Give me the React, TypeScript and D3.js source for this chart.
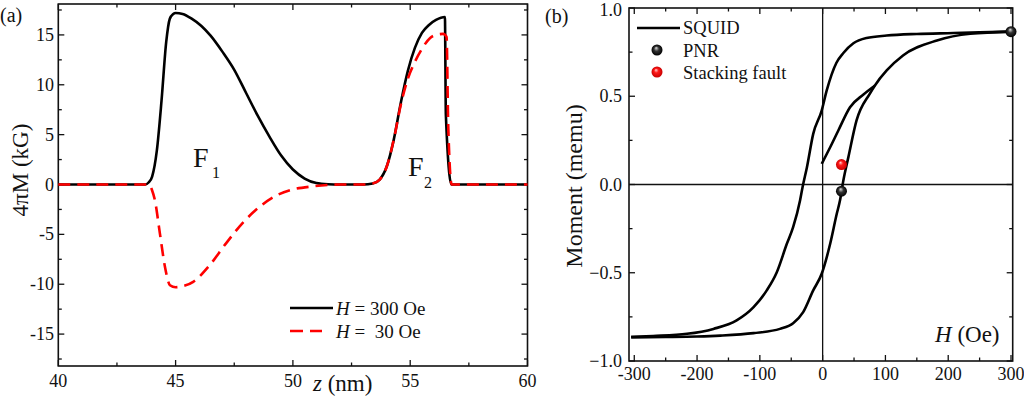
import React from 'react'
import * as d3 from 'd3'

// panel (a): magnetization depth profile
const z300 = [40, 43.7, 43.85, 44.0, 44.2, 44.4, 44.6, 44.75, 44.9, 45.0, 45.3, 45.7, 46.1, 46.5, 47.0, 47.5, 48.0, 48.5, 49.0, 49.5, 50.0, 50.5, 51.0, 51.5, 52, 53.0, 53.4, 53.7, 54.0, 54.3, 54.6, 54.9, 55.2, 55.5, 55.8, 56.1, 56.48, 56.52, 56.76, 60];
const m300 = [0, 0, 0.2, 0.8, 3.4, 8.4, 14.3, 16.6, 17.1, 17.2, 17.1, 16.6, 15.9, 14.9, 13.3, 11.5, 9.2, 6.9, 4.8, 2.9, 1.5, 0.6, 0.15, 0.03, 0, 0, 0.1, 0.5, 1.8, 4.5, 8.2, 11.4, 13.7, 15.2, 16.0, 16.5, 16.8, 7.0, 0, 0];
const z30 = [40, 43.85, 44.0, 44.12, 44.33, 44.55, 44.76, 45.0, 45.2, 45.75, 46.45, 47.15, 47.9, 48.6, 49.3, 50.0, 50.8, 51.5, 52, 53.0, 53.4, 53.7, 54.0, 54.3, 54.6, 54.9, 55.2, 55.5, 55.85, 56.1, 56.4, 56.55, 56.62, 56.77, 60];
const m30 = [0, 0, -0.6, -1.6, -4.9, -8.3, -10.1, -10.3, -10.25, -9.76, -8.1, -5.9, -3.75, -2.2, -1.1, -0.5, -0.2, -0.05, 0, 0, 0.1, 0.5, 1.8, 4.5, 8.0, 10.6, 12.3, 13.6, 14.7, 15.0, 15.1, 14.8, 6, 0, 0];
const zTicks = [40, 45, 50, 55, 60];
const magTicks = [-15, -10, -5, 0, 5, 10, 15];

// panel (b): SQUID loop (branches listed in increasing H)
const hDown = [-305, -270, -216, -174, -137, -110, -89, -73, -57, -47, -36, -32, -25, -15, -1.5, 6.5, 22, 33, 49, 70, 102, 150, 208, 250, 300];
const mDown = [-0.863, -0.858, -0.846, -0.818, -0.77, -0.695, -0.6, -0.497, -0.336, -0.242, -0.09, -0.015, 0.098, 0.287, 0.419, 0.533, 0.69, 0.745, 0.8, 0.83, 0.844, 0.853, 0.858, 0.862, 0.866];
const hUp = [-305, -250, -200, -163, -110, -68, -47, -31, -15, -1.5, 12, 22.5, 27.6, 33, 41, 54, 75, 83, 102, 128, 182, 235, 300];
const mUp = [-0.866, -0.864, -0.861, -0.856, -0.842, -0.818, -0.786, -0.723, -0.6, -0.506, -0.336, -0.166, -0.091, 0.023, 0.155, 0.363, 0.514, 0.56, 0.646, 0.731, 0.816, 0.854, 0.866];
const hInit = [-1.5, 12, 25, 43.6, 65, 83];
const mInit = [0.117, 0.211, 0.306, 0.438, 0.51, 0.56];
const pnrH = [300, 30];
const pnrM = [0.866, -0.038];
const sfH = [30];
const sfM = [0.113];
const hTicks = [-300, -200, -100, 0, 100, 200, 300];
const momTicks = [-1.0, -0.5, 0.0, 0.5, 1.0];

const FONT = '"Liberation Serif", "Times New Roman", serif';

type Sc = d3.ScaleLinear<number, number>;

function Frame({ x, y, major, minorX, minorY, majorY, fmtX, fmtY, xLabY, yLabX }: {
  x: Sc; y: Sc; major: number[]; majorY: number[]; minorX: number[]; minorY: number[];
  fmtX: (v: number) => string; fmtY: (v: number) => string; xLabY: number; yLabX: number;
}) {
  const [x0, x1] = x.range();
  const [y0, y1] = y.range(); // y0 bottom
  const tk: JSX.Element[] = [];
  const push = (k: string, a: number, b: number, c: number, d: number) =>
    tk.push(<line key={k} x1={a} y1={b} x2={c} y2={d} stroke="#111" strokeWidth={1.3} />);
  major.forEach((v) => { const p = x(v); push('xb' + v, p, y0, p, y0 - 6); push('xt' + v, p, y1, p, y1 + 6); });
  minorX.forEach((v) => { const p = x(v); push('xbm' + v, p, y0, p, y0 - 3.5); push('xtm' + v, p, y1, p, y1 + 3.5); });
  majorY.forEach((v) => { const p = y(v); push('yl' + v, x0, p, x0 + 6, p); push('yr' + v, x1, p, x1 - 6, p); });
  minorY.forEach((v) => { const p = y(v); push('ylm' + v, x0, p, x0 + 3.5, p); push('yrm' + v, x1, p, x1 - 3.5, p); });
  return (
    <g>
      <rect x={x0} y={y1} width={x1 - x0} height={y0 - y1} fill="none" stroke="#111" strokeWidth={1.6} />
      {tk}
      {major.map((v) => (
        <text key={'lx' + v} x={x(v)} y={xLabY} textAnchor="middle" fontSize={18}>{fmtX(v)}</text>
      ))}
      {majorY.map((v) => (
        <text key={'ly' + v} x={yLabX} y={Math.max(y(v) + 6, 16)} textAnchor="end" fontSize={18}>{fmtY(v)}</text>
      ))}
    </g>
  );
}

export default function App() {
  // ----- panel (a)
  const xa = d3.scaleLinear().domain([40, 60]).range([58.3, 527.5]);
  const ya = d3.scaleLinear().domain([-18.2, 18.1]).range([366, 4]);
  const lineA = d3.line<[number, number]>().x((d) => xa(d[0])).y((d) => ya(d[1])).curve(d3.curveMonotoneX);
  const p300 = lineA(z300.map((z, i) => [z, m300[i]]) as [number, number][]) || '';
  const p30 = lineA(z30.map((z, i) => [z, m30[i]]) as [number, number][]) || '';

  // ----- panel (b)
  const xb = d3.scaleLinear().domain([-308.4, 302.7]).range([629, 1012.7]);
  const yb = d3.scaleLinear().domain([-1, 1]).range([361, 8]);
  const lineB = d3.line<[number, number]>().x((d) => xb(d[0])).y((d) => yb(d[1])).curve(d3.curveMonotoneX);
  const pd = lineB(hDown.map((h, i) => [h, mDown[i]]) as [number, number][]) || '';
  const pu = lineB(hUp.map((h, i) => [h, mUp[i]]) as [number, number][]) || '';
  const pi = lineB(hInit.map((h, i) => [h, mInit[i]]) as [number, number][]) || '';

  const minor = (a: number, b: number, s: number) => d3.range(a, b + 1e-9, s);

  return (
    <div style={{ position: 'absolute', left: 0, top: 0 }}>
      <svg width={1024} height={399} style={{ display: 'block', fontFamily: FONT }} fill="#111">
        <defs>
          <radialGradient id="gBlack" cx="0.5" cy="0.5" r="0.5" fx="0.42" fy="0.3">
            <stop offset="0%" stopColor="#e0e0e0" />
            <stop offset="45%" stopColor="#333" />
            <stop offset="100%" stopColor="#000" />
          </radialGradient>
          <radialGradient id="gRed" cx="0.5" cy="0.5" r="0.5" fx="0.4" fy="0.3">
            <stop offset="0%" stopColor="#ffd6d6" />
            <stop offset="40%" stopColor="#ff1a1a" />
            <stop offset="100%" stopColor="#c80000" />
          </radialGradient>
        </defs>

        {/* ===== panel (a) ===== */}
        <Frame x={xa} y={ya} major={zTicks} majorY={magTicks}
          minorX={minor(42.5, 57.5, 5)} minorY={[-17.5, -12.5, -7.5, -2.5, 2.5, 7.5, 12.5, 17.5]}
          fmtX={(v) => String(v)} fmtY={(v) => String(v)} xLabY={387} yLabX={54} />
        <path d={p300} fill="none" stroke="#000" strokeWidth={2.6} strokeLinejoin="round" />
        <path d={p30} fill="none" stroke="#ff0000" strokeWidth={2.6} strokeDasharray="12 7" />
        <text x={0} y={22} fontSize={20}>(a)</text>
        <text transform="translate(28,170) rotate(-90)" textAnchor="middle" fontSize={23}>4πM (kG)</text>
        <text x={313} y={391} fontSize={23}><tspan fontStyle="italic">z</tspan> (nm)</text>
        <text x={193} y={167} fontSize={28}>F</text>
        <text x={212} y={178} fontSize={16}>1</text>
        <text x={408} y={176} fontSize={28}>F</text>
        <text x={424} y={188} fontSize={16}>2</text>
        {/* legend (a) */}
        <line x1={290} x2={333} y1={308} y2={308} stroke="#000" strokeWidth={2.6} />
        <text x={336} y={315} fontSize={19}><tspan fontStyle="italic">H</tspan> = 300 Oe</text>
        <line x1={290} x2={322} y1={331} y2={331} stroke="#ff0000" strokeWidth={2.6} strokeDasharray="13 7" />
        <text x={336} y={338} fontSize={19} style={{ whiteSpace: 'pre' }}><tspan fontStyle="italic">H</tspan> =  30 Oe</text>

        {/* ===== panel (b) ===== */}
        <line x1={xb.range()[0]} x2={xb.range()[1]} y1={yb(0)} y2={yb(0)} stroke="#111" strokeWidth={1.3} />
        <line x1={xb(0)} x2={xb(0)} y1={yb.range()[0]} y2={yb.range()[1]} stroke="#111" strokeWidth={1.3} />
        <Frame x={xb} y={yb} major={hTicks} majorY={momTicks}
          minorX={minor(-250, 250, 100)} minorY={[-0.75, -0.25, 0.25, 0.75]}
          fmtX={(v) => String(v)} fmtY={d3.format('.1f')} xLabY={380} yLabX={622} />
        <path d={pd} fill="none" stroke="#000" strokeWidth={2.6} strokeLinejoin="round" />
        <path d={pu} fill="none" stroke="#000" strokeWidth={2.6} strokeLinejoin="round" />
        <path d={pi} fill="none" stroke="#000" strokeWidth={2.6} strokeLinejoin="round" />
        {pnrH.map((h, i) => (
          <circle key={'pnr' + i} cx={xb(h)} cy={yb(pnrM[i])} r={5.5} fill="url(#gBlack)" />
        ))}
        {sfH.map((h, i) => (
          <circle key={'sf' + i} cx={xb(h)} cy={yb(sfM[i])} r={5.5} fill="url(#gRed)" />
        ))}
        <text x={545} y={23} fontSize={20}>(b)</text>
        <text transform="translate(582,186) rotate(-90)" textAnchor="middle" fontSize={24}>Moment (memu)</text>
        <text x={935} y={342} fontSize={23}><tspan fontStyle="italic">H</tspan> (Oe)</text>
        {/* legend (b) */}
        <line x1={637} x2={680} y1={28} y2={28} stroke="#000" strokeWidth={2.6} />
        <text x={683} y={34} fontSize={18.5}>SQUID</text>
        <circle cx={657} cy={50} r={5.5} fill="url(#gBlack)" />
        <text x={683} y={57} fontSize={18.5}>PNR</text>
        <circle cx={657} cy={72} r={5.5} fill="url(#gRed)" />
        <text x={683} y={79} fontSize={18.5}>Stacking fault</text>
      </svg>
    </div>
  );
}
